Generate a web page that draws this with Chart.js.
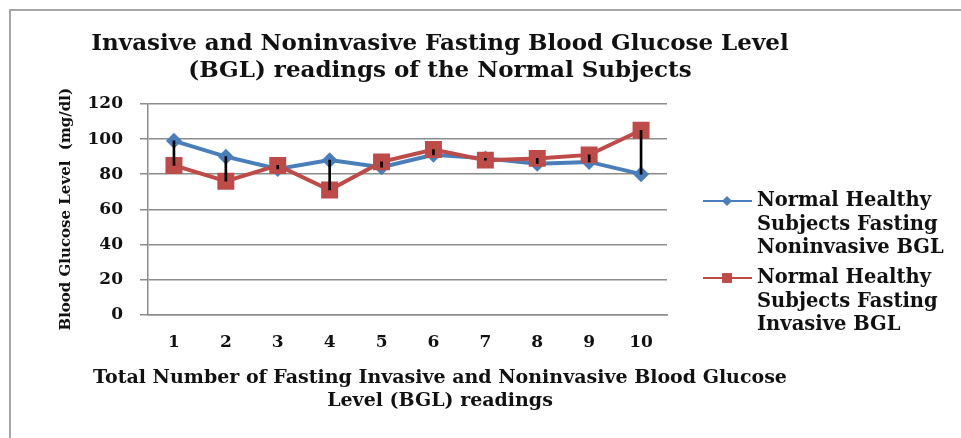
<!DOCTYPE html>
<html>
<head>
<meta charset="utf-8">
<script src="https://cdn.jsdelivr.net/npm/chart.js@4.4.0/dist/chart.umd.min.js"></script>
<style>
  html, body { margin: 0; background: #fff; overflow: hidden; }
</style>
</head>
<body>
<canvas id="nchart" width="961" height="438"></canvas>
<script>
// readings 1..10
var readings = ["1", "2", "3", "4", "5", "6", "7", "8", "9", "10"];
var noninvasive = [99, 90, 83, 88, 84, 91, 89, 86, 87, 80];
var invasive = [85, 76, 85, 71, 87, 94, 88, 89, 91, 105];
var yTicks = [0, 20, 40, 60, 80, 100, 120];

var legendLines = [
  ["Normal Healthy", "Subjects Fasting", "Noninvasive BGL"],
  ["Normal Healthy", "Subjects Fasting", "Invasive BGL"]
];

var serif = "'DejaVu Serif', 'Liberation Serif', serif";
var ink = "#111";

// high-low lines between the two series
var hiLow = readings.map(function (r, i) {
  return [Math.min(noninvasive[i], invasive[i]), Math.max(noninvasive[i], invasive[i])];
});

// outer frame of the figure (only top and left edges are visible)
var framePlugin = {
  id: 'frame',
  beforeDraw: function (chart) {
    var ctx = chart.ctx;
    ctx.save();
    ctx.fillStyle = "#fff";
    ctx.fillRect(0, 0, chart.width, chart.height);
    ctx.strokeStyle = "#a6a6a6";
    ctx.lineWidth = 2;
    ctx.beginPath();
    ctx.moveTo(10, chart.height);
    ctx.lineTo(10, 10);
    ctx.lineTo(chart.width, 10);
    ctx.stroke();
    ctx.restore();
  }
};

var legendPlugin = {
  id: 'sideLegend',
  afterDraw: function (chart) {
    var ctx = chart.ctx;
    var tops = [201, 278];
    ctx.save();
    ctx.font = "bold 19.5px " + serif;
    ctx.textBaseline = "middle";
    for (var k = 0; k < 2; k++) {
      var ds = chart.data.datasets[k];
      var y = tops[k];
      ctx.strokeStyle = ds.borderColor;
      ctx.lineWidth = 2;
      ctx.beginPath();
      ctx.moveTo(703, y);
      ctx.lineTo(752, y);
      ctx.stroke();
      ctx.fillStyle = ds.backgroundColor;
      Chart.helpers.drawPoint(ctx, {pointStyle: ds.pointStyle, radius: k == 0 ? 5 : 7, borderWidth: 0}, 727, y);
      ctx.fillStyle = ink;
      for (var j = 0; j < legendLines[k].length; j++) {
        ctx.fillText(legendLines[k][j], 757, y + j * 23.5);
      }
    }
    ctx.restore();
  }
};

var ctx = document.getElementById("nchart");
var chartGraph = new Chart(ctx, {
  type: "line",
  data: {
    labels: readings,
    datasets: [{
      label: legendLines[0].join(" "),
      data: noninvasive,
      borderColor: "#4a7ebb",
      backgroundColor: "#4a7ebb",
      borderWidth: 4,
      pointStyle: "rectRot",
      pointRadius: 8,
      pointBorderWidth: 0,
      tension: 0,
      order: 2
    }, {
      label: legendLines[1].join(" "),
      data: invasive,
      borderColor: "#be4b48",
      backgroundColor: "#be4b48",
      borderWidth: 4,
      pointStyle: "rect",
      pointRadius: 12,
      pointBorderWidth: 0,
      tension: 0,
      order: 1
    }, {
      type: "bar",
      label: "hilo",
      data: hiLow,
      backgroundColor: "#000",
      barThickness: 2,
      order: 0
    }]
  },
  options: {
    responsive: false,
    animation: false,
    layout: { padding: { left: 0, right: 81, top: 0, bottom: 0 } },
    plugins: {
      legend: { display: false },
      tooltip: { enabled: false },
      title: {
        display: true,
        text: ["Invasive and Noninvasive Fasting Blood Glucose Level", "(BGL) readings of the Normal Subjects"],
        color: ink,
        font: { family: serif, size: 23, weight: "bold", lineHeight: 27 / 23 },
        padding: { top: 31, bottom: 19 }
      },
      subtitle: {
        display: true,
        position: "bottom",
        text: ["Total Number of Fasting Invasive and Noninvasive Blood Glucose", "Level (BGL) readings"],
        color: ink,
        font: { family: serif, size: 19, weight: "bold", lineHeight: 23 / 19 },
        padding: { top: 0, bottom: 25 }
      }
    },
    scales: {
      x: {
        offset: true,
        grid: { display: false, drawTicks: false },
        border: { display: true, color: "#8c8c8c", width: 1.5 },
        ticks: { color: ink, font: { family: serif, size: 17, weight: "bold" }, padding: 18 },
        afterFit: function (s) { s.height = 52.5; }
      },
      y: {
        min: 0,
        max: 120,
        afterBuildTicks: function (s) { s.ticks = yTicks.map(function (v) { return {value: v}; }); },
        grid: { color: "#8c8c8c", lineWidth: 1.5, tickLength: 8 },
        border: { display: true, color: "#8c8c8c", width: 1.5 },
        ticks: { color: ink, font: { family: serif, size: 17, weight: "bold" }, padding: 17 },
        title: {
          display: true,
          text: "Blood Glucose Level  (mg/dl)",
          color: ink,
          font: { family: serif, size: 15, weight: "bold" },
          padding: { top: 57, bottom: 0 }
        },
        afterFit: function (s) { s.width = 148; }
      },
      y2: {
        position: "right",
        display: true,
        grid: { display: false, drawTicks: false },
        border: { display: false },
        ticks: { display: false },
        afterFit: function (s) { s.width = 213; }
      }
    }
  },
  plugins: [framePlugin, legendPlugin]
});
</script>
</body>
</html>
